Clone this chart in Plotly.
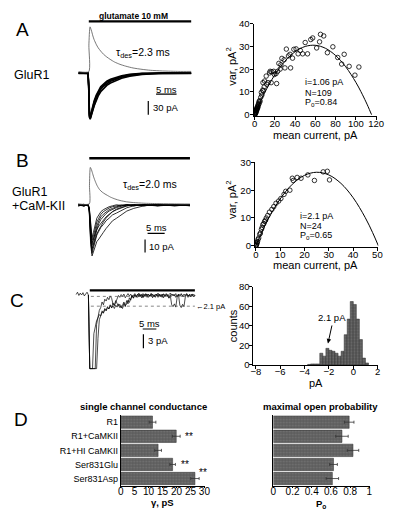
import plotly.graph_objects as go

# ---------------- DATA ----------------
# Panel A: whole-cell responses (ms, pA)
tA = [-2.5, -1.2, -0.2, 0, 0.15, 0.35, 0.6, 0.9, 1.3, 1.8, 2.3, 2.9, 3.6, 4.4, 5.3, 6.5, 8, 10, 13, 18, 25]
A_traces = [
    [-1, -1.8, -1, -35, -95, -100, -92, -80, -68, -56, -46, -37, -30, -24, -19, -15, -10, -6.5, -3, -1.2, -1],
    [-2, -1.2, -2, -28, -90, -96, -87, -74, -62, -50, -40, -31, -25, -19, -14.5, -11, -7, -4, -1.8, -2, -1.5],
    [-1.5, -2.2, -1.2, -40, -98, -102, -96, -85, -73, -61, -51, -42, -35, -28, -23, -18, -12.5, -8, -4.2, -1.5, -2],
    [-0.8, -1.5, -1.8, -30, -93, -99, -90, -78, -65, -53, -43, -34, -27.5, -21.5, -17, -13, -8.5, -5, -2.2, -0.6, -1.4],
]
fitA_t = [-2.5, 0, 0.02, 0.3, 0.6, 1.0, 1.3, 1.8, 2.3, 2.9, 3.6, 4.4, 5.2, 6.3, 7.6, 9.0, 10.8, 13, 15, 18, 22, 25]
fitA_pA = [2, 2, 60, 100, 93, 80, 72, 62, 54, 47, 40, 34, 29, 23, 18, 14, 10, 7, 5, 3.5, 2.5, 2.5]
gluA_ms = [0, 25]

# Panel B
tB = [-3.2, -1.6, -0.3, 0, 0.4, 0.8, 1.2, 1.7, 2.2, 2.8, 3.4, 4.1, 4.9, 5.8, 6.8, 8.0, 9.5, 11, 13, 16, 20, 25, 29.5]
B_traces = [
    [0.8, -0.6, 0.5, -6, -30, -39, -36, -31, -28, -26, -24, -21, -18, -15, -12, -10, -7, -4.5, -2.5, -0.5, 0.6, -0.5, 0.4],
    [-0.5, 0.7, -0.4, -5, -27, -37, -33, -27, -23, -20, -17, -15, -12, -10, -7.5, -6, -4, -2, -0.5, 0.5, -0.4, 0.5, -0.3],
    [0.3, -0.8, 0.6, -4, -25, -35, -30, -24, -19, -16, -14, -11, -9, -7, -5, -3.5, -2, -0.6, 0.4, -0.5, 0.6, -0.3, 0.5],
    [-0.7, 0.5, -0.3, -4, -22, -33, -31, -26, -22, -19, -16, -13, -10, -7.5, -5, -3, -1.5, -0.3, 0.5, -0.4, 0.3, -0.5, 0.2],
    [0.6, -0.4, 0.2, -3, -20, -31, -27, -21, -16, -12, -9, -7, -5, -3.5, -2.5, -1.2, -0.3, 0.5, -0.4, 0.3, -0.6, 0.4, -0.2],
    [-0.3, 0.6, -0.6, -3, -18, -29, -26, -22, -18, -14, -11, -8.5, -6.5, -4.5, -3, -1.8, -0.8, 0.3, -0.5, 0.4, -0.3, 0.5, -0.4],
    [0.5, -0.5, 0.4, -2, -15, -27, -24, -18, -13, -10, -7, -5, -3.5, -2.2, -1.2, -0.4, 0.3, -0.5, 0.4, -0.3, 0.5, -0.2, 0.4],
    [-0.4, 0.3, -0.5, -2, -13, -25, -21, -15, -10, -7.5, -5, -3.5, -2.2, -1.2, -0.5, 0.3, -0.4, 0.5, -0.3, 0.5, -0.4, 0.4, -0.5],
]
fitB_t = [-3.2, 0, 0.05, 0.3, 0.6, 0.9, 1.3, 1.8, 2.3, 3.0, 3.8, 4.6, 5.2, 6.2, 7.5, 9, 10.9, 13, 16, 20, 25, 29.5]
fitB_pA = [1, 1, 15, 29, 27.5, 25, 21.5, 18, 15, 12, 10, 8.6, 7.7, 6.2, 4.8, 3.6, 2.6, 2, 1.5, 1.2, 1, 0.9]
gluB_ms = [0, 29.5]

# Panel C: single-channel traces sampled every 0.5 ms
C_dt = 0.5
C1_start = -5.0
C1 = [0.4, 0.9, 0.2, 0.7, 0.3, 0.8, 0.1, 0.6, 0.9, 0.3,
      -15.5, -15.5, -15.5, -8.0, -6.5, -5.2, -4.6, -3.9, -4.2, -3.1, -3.5, -2.6, -3.0, -2.2, -2.7, -1.8,
      -2.5, -2.0, -2.6, -1.9, -2.3, -1.6, -2.4, -2.0, -2.6, -1.5, -2.2, -0.9, -1.6, -0.3, -0.8, 0.2,
      -0.4, 0.3, -0.2, 0.5, -0.1, 0.4, -0.3, 0.6, 0.0, 0.5, -0.2, 0.4, 0.1, 0.6, -0.3, 0.3, 0.0, 0.5,
      -0.2, 0.4, 0.1, 0.5, -0.3, 0.3, 0.0, 0.4, -0.4, 0.2, -1.8, -2.2, -1.6, -2.3, -0.2, 0.3, -1.9, -2.4,
      -1.7, -2.2, -0.1, 0.4, -0.2, 0.3, 0.0, 0.4, -0.1, 0.2]
C23_start = -0.5
C2 = [0.3, -15.5, -15.5, -15.5, -15.5, -15.5, -6.0, -4.0, -3.0, -2.4, -1.2, -1.8, -0.6, -1.0, -0.2, -0.7,
      0.1, -0.4, -1.6, -2.0, -1.1, -0.3, 0.2, -0.2, 0.4, 0.0, 0.5, -0.3, 0.3, 0.6, 0.1, 0.5, -0.2, 0.3,
      0.6, 0.0, 0.4, 0.7, 0.1, 0.5, -0.1, 0.4, 0.6, 0.2, 0.5, 0.0, 0.6, 0.3, -0.1, 0.5, 0.2, 0.7, 0.1,
      0.4, -0.2, 0.5, 0.3, 0.6, 0.0, 0.4, 0.7, 0.2, 0.5, 0.1, 0.6, -0.1, 0.4, 0.3, 0.6, 0.0, 0.5, 0.2,
      0.6, 0.1, 0.4, 0.3, 0.5, 0.0, 0.3]
C3 = [0.3, -15.5, -15.5, -15.5, -15.5, -15.5, -15.5, -9.0, -5.0, -4.2, -3.4, -3.6, -2.8, -3.1, -2.4, -2.7,
      -2.0, -2.4, -1.4, -1.9, -0.9, -1.5, -2.1, -1.7, -2.5, -1.9, -1.2, -2.0, -1.6, -0.8, -1.3, -0.5,
      0.2, -0.3, 0.4, 0.1, -0.2, 0.5, 0.0, 0.3, -0.3, 0.4, 0.1, 0.5, -0.2, 0.3, 0.0, 0.5, 0.2, -0.2,
      0.4, 0.1, 0.5, -0.1, 0.3, 0.5, 0.0, 0.4, 0.2, -0.3, 0.3, 0.5, 0.1, 0.4, -0.2, 0.3, 0.5, 0.0, 0.4,
      0.2, -0.1, 0.3, 0.5, 0.1, 0.4, -0.1, 0.3, 0.5, 0.2]
gluC_ms = [0, 38.5]
unitary_pA = 2.1

# Variance-mean (A)
varA_mean = [0.2, 0.4, 0.5, 0.7, 0.8, 1.0, 1.1, 1.3, 1.5, 1.7, 1.9, 2.1, 2.3, 2.6, 2.8, 3.0, 3.3, 3.5, 3.8, 4.2,
             4.5, 5.0, 5.4, 6.1, 6.7, 7.2, 8.0, 8.7, 8.3, 9.5, 9.9, 11.5, 12.0, 13.2, 14.8, 15.4, 16.4, 17.0,
             18.9, 19.6, 21.2, 21.8, 22.8, 24.0, 25.3, 26.0, 27.0, 29.2, 30.0, 31.4, 33.5, 35.0, 35.6, 37.5,
             38.8, 41.0, 43.0, 45.2, 47.5, 50.0, 52.3, 55.5, 57.4, 61.3, 64.2, 65.1, 68.3, 71.9, 77.3, 82.1,
             86.0, 88.5, 93.4, 99.1, 103.0]
varA_var = [0.1, 0.6, 0.2, 1.0, 0.4, 1.3, 0.7, 1.8, 1.1, 2.2, 1.6, 2.8, 2.1, 2.6, 3.4, 2.9, 4.0, 3.5, 4.6, 5.5,
            4.8, 6.2, 5.8, 7.6, 9.8, 8.6, 10.8, 10.5, 14.1, 12.2, 14.8, 17.0, 13.4, 14.1, 18.4, 19.1, 14.1, 18.9,
            19.1, 17.7, 18.1, 13.7, 19.1, 22.6, 20.1, 22.0, 24.8, 24.2, 20.6, 28.9, 25.9, 26.6, 20.6, 24.9,
            28.8, 29.0, 26.8, 28.3, 26.8, 31.8, 26.8, 33.1, 33.8, 29.4, 32.1, 35.4, 34.7, 27.3, 29.9, 25.2,
            22.3, 26.6, 21.3, 17.4, 21.0]
fitVarA_I = [0, 5, 10, 20, 30, 40, 50, 60, 70, 80, 90, 100, 105, 110, 112, 115.5]
fitVarA_v = [0, 5.07, 9.68, 17.53, 23.54, 27.72, 30.06, 30.57, 29.25, 26.08, 21.09, 14.26, 10.15, 5.6, 3.64, 0]

# Variance-mean (B)
varB_mean = [0.1, 0.2, 0.3, 0.4, 0.5, 0.7, 0.9, 1.2, 1.6, 1.9, 2.3, 2.6, 2.9, 3.3, 3.6, 4.0, 4.3, 4.9, 5.6,
             6.6, 7.4, 8.3, 9.4, 10.3, 11.6, 12.3, 14.0, 15.0, 15.4, 17.0, 18.6, 21.4, 24.1, 27.7, 29.4, 30.3]
varB_var = [0.1, 0.3, 0.4, 0.8, 1.2, 1.5, 2.3, 2.8, 4.1, 4.6, 5.9, 6.6, 7.6, 8.0, 8.8, 9.2, 10.0, 10.9, 12.1,
            13.1, 14.1, 15.3, 16.1, 17.0, 18.5, 19.6, 20.0, 24.3, 23.5, 24.6, 24.3, 25.5, 23.5, 26.6, 26.8, 23.7]
fitVarB_I = [0, 2.5, 5, 10, 15, 20, 25, 30, 35, 40, 45, 48, 50.4]
fitVarB_v = [0, 4.99, 9.46, 16.83, 22.13, 25.33, 26.46, 25.5, 22.46, 17.33, 10.13, 4.8, 0]

# Amplitude histogram (C)
hist_pA = [-3.625, -3.375, -3.125, -2.875, -2.625, -2.375, -2.125, -1.875, -1.625, -1.375, -1.125, -0.875,
           -0.625, -0.375, -0.125, 0.125, 0.375, 0.625, 0.875, 1.125]
hist_counts = [0.5, 1, 1, 1, 12, 9, 17, 15, 14, 12, 9, 14, 31, 47, 65, 62, 47, 26, 7, 2]

# Panel D
groups = ["R1", "R1+CaMKII", "R1+HI CaMKII", "Ser831Glu", "Ser831Asp"]
gamma_pS = [11.4, 19.9, 13.4, 18.6, 26.6]
gamma_err = [1.2, 1.4, 1.2, 1.0, 1.5]
Po_max = [0.79, 0.715, 0.83, 0.627, 0.615]
Po_err = [0.05, 0.065, 0.06, 0.04, 0.065]

# ---------------- LAYOUT HELPERS ----------------
W, H = 400, 518
FONT = "Liberation Sans, Arial, Helvetica, sans-serif"


def xd(a, b):
    return [a / W, b / W]


def yd(top, bot):
    return [1 - bot / H, 1 - top / H]


def px(x):
    return x / W


def py(y):
    return 1 - y / H


class TracePanel:
    def __init__(self, xdom, ydom, onset, base, pxms, pxpa):
        self.xdom, self.ydom = xdom, ydom
        self.onset, self.base, self.pxms, self.pxpa = onset, base, pxms, pxpa

    def xr(self):
        return [(self.xdom[0] - self.onset) / self.pxms, (self.xdom[1] - self.onset) / self.pxms]

    def yr(self):
        return [-(self.ydom[1] - self.base) / self.pxpa, (self.base - self.ydom[0]) / self.pxpa]

    def t(self, xpix):
        return (xpix - self.onset) / self.pxms

    def v(self, ypix):
        return (self.base - ypix) / self.pxpa


PA = TracePanel((70, 200), (5, 125), 88, 68, 4.2, 0.467)
PB = TracePanel((70, 200), (148, 265), 88.5, 203.5, 3.5, 1.33)
PC = TracePanel((70, 200), (280, 372), 89, 296.7, 2.8, 4.76)

fig = go.Figure()

# ---- panel A traces
for tr in A_traces:
    fig.add_trace(go.Scatter(x=tA, y=tr, mode="lines", line=dict(color="black", width=1.6),
                             xaxis="x", yaxis="y", hoverinfo="skip"))
fig.add_trace(go.Scatter(x=fitA_t, y=fitA_pA, mode="lines", line=dict(color="#555", width=0.8, shape="spline", smoothing=0.6),
                         xaxis="x", yaxis="y"))
fig.add_trace(go.Scatter(x=gluA_ms, y=[PA.v(15.7)] * 2, mode="lines", line=dict(color="black", width=2.2),
                         xaxis="x", yaxis="y"))

# ---- panel B traces
for tr in B_traces:
    fig.add_trace(go.Scatter(x=tB, y=tr, mode="lines", line=dict(color="black", width=0.8),
                             xaxis="x2", yaxis="y2"))
fig.add_trace(go.Scatter(x=fitB_t, y=fitB_pA, mode="lines", line=dict(color="#555", width=0.8, shape="spline", smoothing=0.6),
                         xaxis="x2", yaxis="y2"))
fig.add_trace(go.Scatter(x=gluB_ms, y=[PB.v(155.5)] * 2, mode="lines", line=dict(color="black", width=2.4),
                         xaxis="x2", yaxis="y2"))

# ---- panel C traces
tC1 = [C1_start + C_dt * i for i in range(len(C1))]
tC2 = [C23_start + C_dt * i for i in range(len(C2))]
tC3 = [C23_start + C_dt * i for i in range(len(C3))]
for tt, vv in [(tC1, C1), (tC2, C2), (tC3, C3)]:
    fig.add_trace(go.Scatter(x=tt, y=vv, mode="lines", line=dict(color="black", width=0.7),
                             xaxis="x3", yaxis="y3"))
fig.add_trace(go.Scatter(x=gluC_ms, y=[PC.v(290.5)] * 2, mode="lines", line=dict(color="black", width=2.2),
                         xaxis="x3", yaxis="y3"))
for lvl in [0, -unitary_pA]:
    fig.add_trace(go.Scatter(x=[0.4, gluC_ms[1]], y=[lvl, lvl], mode="lines",
                             line=dict(color="#555", width=0.7, dash="dot"), xaxis="x3", yaxis="y3"))

# ---- scatter A
fig.add_trace(go.Scatter(x=fitVarA_I, y=fitVarA_v, mode="lines", line=dict(color="black", width=1, shape="spline"),
                         xaxis="x4", yaxis="y4"))
fig.add_trace(go.Scatter(x=varA_mean, y=varA_var, mode="markers",
                         marker=dict(symbol="circle-open", size=4.5, color="black", line=dict(width=0.8)),
                         xaxis="x4", yaxis="y4"))
# ---- scatter B
fig.add_trace(go.Scatter(x=fitVarB_I, y=fitVarB_v, mode="lines", line=dict(color="black", width=1, shape="spline"),
                         xaxis="x5", yaxis="y5"))
fig.add_trace(go.Scatter(x=varB_mean, y=varB_var, mode="markers",
                         marker=dict(symbol="circle-open", size=4.5, color="black", line=dict(width=0.8)),
                         xaxis="x5", yaxis="y5"))
# ---- histogram
fig.add_trace(go.Bar(x=hist_pA, y=hist_counts, width=0.25, xaxis="x6", yaxis="y6",
                     marker=dict(color="#5c5c5c", line=dict(color="#2a2a2a", width=0.5),
                                 pattern=dict(shape=".", size=3, solidity=0.3, fgcolor="#8a8a8a", bgcolor="#5a5a5a"))))

# ---- bars D
barmarker = dict(color="#5e5e5e", line=dict(color="#2a2a2a", width=0.5),
                 pattern=dict(shape=".", size=3, solidity=0.3, fgcolor="#8c8c8c", bgcolor="#5c5c5c"))
fig.add_trace(go.Bar(y=groups, x=gamma_pS, orientation="h", xaxis="x7", yaxis="y7", marker=barmarker,
                     error_x=dict(type="data", array=gamma_err, color="#333", thickness=0.8, width=1.5)))
fig.add_trace(go.Bar(y=groups, x=Po_max, orientation="h", xaxis="x8", yaxis="y8", marker=barmarker,
                     error_x=dict(type="data", array=Po_err, color="#333", thickness=0.8, width=1.5)))

hidden = dict(visible=False, fixedrange=True)
tickfont = dict(family=FONT, size=9.5, color="black")
axstyle = dict(showline=True, linecolor="black", linewidth=1, ticks="outside", ticklen=3, tickwidth=1,
               tickcolor="black", showgrid=False, zeroline=False, tickfont=tickfont)
xstyle = dict(axstyle, ticklabelstandoff=-5)
ystyle = dict(axstyle, ticklabelstandoff=-2)
dxstyle = dict(axstyle, ticklen=2, linewidth=0.8, ticklabelstandoff=-5,
               tickfont=dict(family=FONT, size=10, color="black"))

layout = dict(
    width=W, height=518, margin=dict(l=0, r=0, t=0, b=0), showlegend=False,
    paper_bgcolor="white", plot_bgcolor="white", bargap=0.12,
    font=dict(family=FONT, color="black"),
    xaxis=dict(domain=xd(*PA.xdom), range=PA.xr(), **hidden),
    yaxis=dict(domain=yd(*PA.ydom), range=PA.yr(), anchor="x", **hidden),
    xaxis2=dict(domain=xd(*PB.xdom), range=PB.xr(), anchor="y2", **hidden),
    yaxis2=dict(domain=yd(*PB.ydom), range=PB.yr(), anchor="x2", **hidden),
    xaxis3=dict(domain=xd(*PC.xdom), range=PC.xr(), anchor="y3", **hidden),
    yaxis3=dict(domain=yd(*PC.ydom), range=PC.yr(), anchor="x3", **hidden),
    xaxis4=dict(domain=xd(256.96, 383.7), range=[-1, 121], anchor="y4", tickvals=[0, 20, 40, 60, 80, 100, 120], **xstyle),
    yaxis4=dict(domain=yd(18.3, 112.6), range=[-0.7, 40], anchor="x4", tickvals=[0, 10, 20, 30, 40], **ystyle),
    xaxis5=dict(domain=xd(258.3, 385), range=[-0.4, 50.4], anchor="y5", tickvals=[0, 10, 20, 30, 40, 50], **xstyle),
    yaxis5=dict(domain=yd(159.8, 246.4), range=[-0.5, 30], anchor="x5", tickvals=[0, 10, 20, 30], **ystyle),
    xaxis6=dict(domain=xd(256.8, 384.9), range=[-8.2, 2.05], anchor="y6", tickvals=[-8, -6, -4, -2, 0, 2], **xstyle),
    yaxis6=dict(domain=yd(287, 366.7), range=[0, 80], anchor="x6", tickvals=[0, 20, 40, 60, 80], **ystyle),
    xaxis7=dict(domain=xd(120.7, 206.6), range=[0, 30], anchor="y7", tickvals=[0, 5, 10, 15, 20, 25, 30], **dxstyle),
    yaxis7=dict(domain=yd(418, 490), anchor="x7", categoryorder="array", categoryarray=groups, autorange="reversed",
                showline=True, linecolor="black", linewidth=0.8, ticks="", showgrid=False,
                tickfont=dict(family=FONT, size=9, color="black")),
    xaxis8=dict(domain=xd(277.3, 375.7), range=[0, 1.0], anchor="y8", tickvals=[0, 0.2, 0.4, 0.6, 0.8, 1],
                ticktext=["0", "0.2", "0.4", "0.6", "0.8", "1"], **dxstyle),
    yaxis8=dict(domain=yd(418, 490), anchor="x8", categoryorder="array", categoryarray=groups, autorange="reversed",
                showline=True, linecolor="black", linewidth=0.8, ticks="", showticklabels=False, showgrid=False),
)
fig.update_layout(**layout)

# ---- scale bars (shapes in data units)
shapes = []


def hbar(panel, axn, xpix, ypix, ms):
    t0 = panel.t(xpix)
    shapes.append(dict(type="line", xref="x" + axn, yref="y" + axn, x0=t0, x1=t0 + ms,
                       y0=panel.v(ypix), y1=panel.v(ypix), line=dict(color="black", width=1.2)))


def vbar(panel, axn, xpix, ypix_top, pA):
    y0 = panel.v(ypix_top)
    shapes.append(dict(type="line", xref="x" + axn, yref="y" + axn, x0=panel.t(xpix), x1=panel.t(xpix),
                       y0=y0, y1=y0 - pA, line=dict(color="black", width=1.2)))


hbar(PA, "", 157, 90, 5)
vbar(PA, "", 149, 97, 30)
hbar(PB, "2", 148.3, 232.3, 5)
vbar(PB, "2", 145.7, 238.5, 10)
hbar(PC, "3", 143.3, 330, 5)
vbar(PC, "3", 144, 335.5, 3)
fig.update_layout(shapes=shapes)

# ---- annotations
ann = []


def txt(x, y, s, size=10, xanchor="center", bold=False, angle=0, yanchor="middle"):
    if bold:
        s = "<b>" + s + "</b>"
    ann.append(dict(xref="paper", yref="paper", x=px(x), y=py(y), text=s, showarrow=False,
                    xanchor=xanchor, yanchor=yanchor, textangle=angle,
                    font=dict(family=FONT, size=size, color="black")))


for letter, x, y in [("A", 20, 24), ("B", 20, 158), ("C", 14, 301), ("D", 18, 422)]:
    txt(x, y, letter, size=19)

txt(134, 10, "glutamate 10 mM", size=8.5, bold=True)
txt(9, 70, "GluR1", size=12.5, xanchor="left")
txt(7, 190, "GluR1", size=12.5, xanchor="left")
txt(7, 204, "+CaM-KII", size=12.5, xanchor="left")
txt(114, 48, "τ<sub>des</sub>=2.3 ms", size=10.5, xanchor="left")
txt(121, 183, "τ<sub>des</sub>=2.0 ms", size=10.5, xanchor="left")
txt(167.5, 85, "5 ms", size=9.5)
txt(152, 104, "30 pA", size=9.5, xanchor="left")
txt(157, 226, "5 ms", size=9.5)
txt(148, 246, "10 pA", size=9.5, xanchor="left")
txt(150.3, 324, "5 ms", size=9.5)
txt(147, 342, "3 pA", size=9.5, xanchor="left")
txt(196, 307, "←2.1 pA", size=7.5, xanchor="left")

txt(234, 62, "var, pA<sup>2</sup>", size=11, angle=-90)
txt(320, 131.5, "mean current, pA", size=11)
txt(308, 78, "i=1.06 pA", size=9, xanchor="left")
txt(308, 88.5, "N=109", size=9, xanchor="left")
txt(308, 98.5, "P<sub>o</sub>=0.84", size=9, xanchor="left")

txt(234, 198, "var, pA<sup>2</sup>", size=11, angle=-90)
txt(321, 264.5, "mean current, pA", size=11)
txt(303, 215, "i=2.1 pA", size=9, xanchor="left")
txt(303, 225, "N=24", size=9, xanchor="left")
txt(303, 234.5, "P<sub>o</sub>=0.65", size=9, xanchor="left")

txt(236, 327, "counts", size=11, angle=-90)
txt(321, 385, "pA", size=11)

txt(144.5, 409, "single channel conductance", size=9.5, bold=True)
txt(326, 409, "maximal open probability", size=9.5, bold=True)
txt(163.6, 507, "γ, pS", size=9.5, bold=True)
txt(326.5, 508.5, "P<sub>o</sub>", size=9.5, bold=True)

fig.update_layout(annotations=ann)
fig.add_annotation(xref="x6", yref="y6", x=-2.08, y=22, ax=4, ay=-18, text="2.1 pA", showarrow=True,
                   arrowhead=2, arrowsize=0.9, arrowwidth=1, arrowcolor="black", yanchor="bottom",
                   font=dict(family=FONT, size=9.5, color="black"))
for gname, xv in [("R1+CaMKII", 22.3), ("Ser831Glu", 21.0)]:
    fig.add_annotation(xref="x7", yref="y7", x=xv, y=gname, text="**", showarrow=False, xanchor="left",
                       font=dict(family=FONT, size=10, color="black"))
fig.add_annotation(xref="x7", yref="y7", x=27.2, y=3.55, text="**", showarrow=False, xanchor="left",
                   font=dict(family=FONT, size=10, color="black"))

fig.write_html("out.html", config={"displayModeBar": False},
               post_script="document.body.style.margin='0px';document.body.style.overflow='hidden';")
